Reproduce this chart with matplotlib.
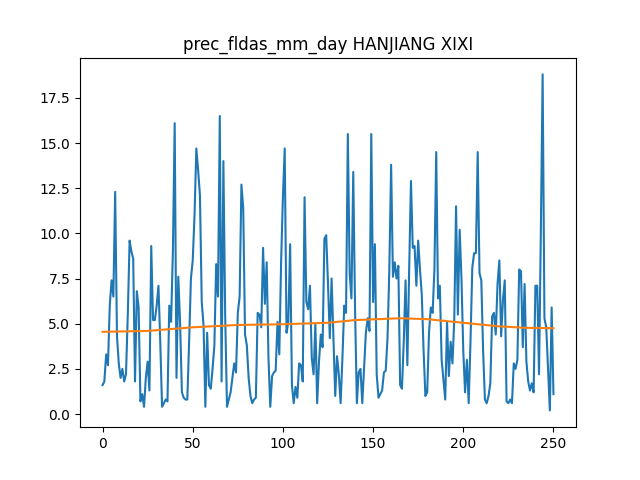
import matplotlib
matplotlib.use("Agg")
import matplotlib.pyplot as plt

prec = [1.6,1.8,3.3,2.7,6.0,7.4,6.5,12.3,4.3,2.8,2.0,2.5,1.8,2.2,5.5,9.6,9.0,8.6,1.8,6.8,
5.9,0.7,1.1,0.4,2.0,2.9,1.3,9.3,5.2,5.2,6.0,7.1,4.0,0.4,0.6,0.8,0.7,6.0,5.1,9.0,
16.1,2.0,7.6,5.0,1.2,0.9,0.8,0.8,4.0,7.5,8.5,11.0,14.7,13.5,12.1,6.2,4.9,0.4,4.5,1.6,
1.4,2.5,3.8,8.3,6.5,16.5,1.8,14.0,5.4,0.4,0.8,1.2,2.0,2.8,2.3,5.6,6.5,12.7,11.4,4.4,
3.8,2.0,1.0,0.6,0.8,0.9,5.6,5.5,4.8,9.2,6.1,8.4,3.1,0.4,2.1,2.3,2.4,5.1,3.3,8.4,
12.0,14.7,4.5,5.1,9.4,1.6,0.6,1.5,0.9,2.8,2.7,1.8,12.0,6.2,5.8,7.1,3.1,2.2,5.0,0.6,
2.9,4.4,3.7,9.7,9.9,7.2,4.2,7.5,4.2,1.0,3.2,2.2,0.6,3.1,6.0,5.6,15.5,7.8,6.4,13.4,
5.8,0.6,2.3,2.5,0.6,2.5,4.5,5.3,4.6,15.5,6.2,9.4,2.2,0.9,1.1,1.3,2.3,2.4,4.2,8.0,
13.8,7.6,8.4,7.5,8.2,1.6,1.4,4.0,7.4,2.7,8.0,12.9,9.2,9.3,7.1,9.6,8.0,6.6,3.5,1.0,
1.2,4.5,5.9,5.6,8.0,14.5,6.4,7.1,3.0,1.9,0.8,5.1,2.1,4.0,2.8,5.2,11.5,5.5,10.2,7.5,
3.5,1.2,3.0,0.6,4.0,8.1,8.9,8.9,14.5,7.8,7.4,3.5,0.8,0.6,1.0,1.7,5.4,5.6,4.4,7.2,
8.5,4.3,6.3,7.4,0.7,0.6,0.8,0.6,2.8,2.5,3.0,8.0,7.9,3.7,7.2,2.9,1.8,1.3,1.7,1.2,
7.1,7.1,2.2,10.0,18.8,5.3,4.8,2.5,0.2,5.9,1.1]

trend_x = [0,25,50,75,100,125,140,165,180,200,220,235,250]
trend_y = [4.55,4.6,4.8,4.93,4.97,5.05,5.2,5.3,5.25,5.05,4.85,4.77,4.75]

fig, ax = plt.subplots(figsize=(6.4,4.8), dpi=100)
ax.plot(range(len(prec)), prec, color='#1f77b4')
ax.plot(trend_x, trend_y, color='#ff7f0e')
ax.set_title('prec_fldas_mm_day HANJIANG XIXI')
fig.savefig('out.png')
